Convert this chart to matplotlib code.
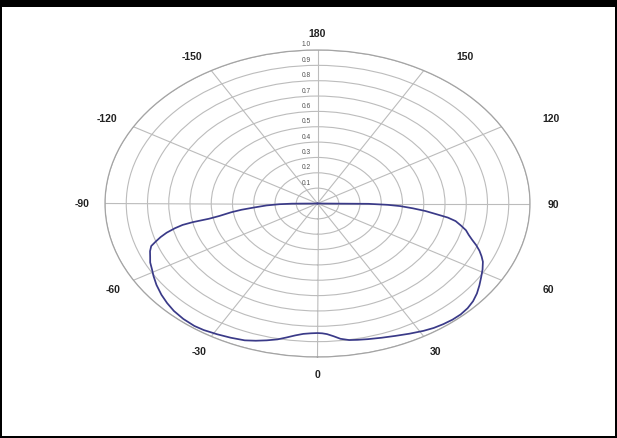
import numpy as np
import matplotlib
matplotlib.use("Agg")
import matplotlib.pyplot as plt
from matplotlib.patches import Rectangle
from matplotlib.transforms import offset_copy

# Richtdiagramm: Winkel (Grad, 0 unten, gegen Uhrzeigersinn) und relative Intensitaet
angles = [-90, -89.5, -88.5, -87, -85, -83.5, -82, -80, -79, -78.3, -77.6,
          -76.5, -75, -73.5, -72, -70.5, -68.5, -66, -64, -61, -58.5, -55,
          -51, -47.5, -44, -40, -36, -33, -29, -25, -21, -18, -15, -12,
          -9.5, -7, -4.5, -2, 0, 1.5, 3, 5, 7, 9.5, 12, 15, 19, 23, 27, 31,
          34, 37, 40, 43, 46, 49, 52, 55, 58, 61, 64, 66, 68, 70, 72, 74,
          76, 78, 80, 81.5, 83, 84.5, 86, 87.5, 88.5, 89.5, 90]
intensity = [0.0, 0.12, 0.18, 0.24, 0.30, 0.36, 0.41, 0.47, 0.52, 0.60, 0.65,
             0.69, 0.735, 0.77, 0.80, 0.83, 0.847, 0.862, 0.876, 0.89, 0.905,
             0.925, 0.945, 0.96, 0.973, 0.982, 0.986, 0.983, 0.974, 0.965,
             0.955, 0.94, 0.923, 0.905, 0.885, 0.866, 0.852, 0.846, 0.844,
             0.846, 0.852, 0.868, 0.888, 0.902, 0.908, 0.915, 0.925, 0.937,
             0.952, 0.968, 0.978, 0.984, 0.988, 0.988, 0.982, 0.97, 0.952,
             0.93, 0.908, 0.888, 0.866, 0.845, 0.822, 0.795, 0.765, 0.74,
             0.72, 0.69, 0.66, 0.62, 0.56, 0.51, 0.45, 0.39, 0.33, 0.24, 0.0]

theta_ticks = [0, 30, 60, 90, 120, 150, 180, 210, 240, 270, 300, 330]
theta_labels = ["0", "30", "60", "90", "120", "150", "180",
                "-150", "-120", "-90", "-60", "-30"]
r_ticks = [0.1, 0.2, 0.3, 0.4, 0.5, 0.6, 0.7, 0.8, 0.9, 1.0]
r_labels = ["0.1", "0.2", "0.3", "0.4", "0.5", "0.6", "0.7", "0.8", "0.9", "1.0"]

# kleine Verschiebungen der Winkelbeschriftung in Pixeln (wie im Original)
label_nudge = {60: 27, 120: 29, 150: 30, 210: -8, 240: -6}

plt.rcParams["font.family"] = ["Liberation Sans", "DejaVu Sans"]

fig = plt.figure(figsize=(6.17, 4.39), dpi=100)
fig.patch.set_facecolor("black")
# weisse Flaeche innerhalb des schwarzen Rahmens
fig.patches.append(Rectangle((2 / 617, 2 / 439), 613 / 617, 429 / 439,
                             transform=fig.transFigure, facecolor="white",
                             edgecolor="none", zorder=-5))

ax = fig.add_axes([105 / 617, 81 / 439, 425 / 617, 307 / 439],
                  projection="polar")
ax.set_aspect("auto")
ax.set_facecolor("white")
ax.set_theta_zero_location("S")
ax.set_theta_direction(1)
ax.set_ylim(0, 1.0)

grid_col = "#bcbcbc"
ax.set_thetagrids(theta_ticks, [""] * len(theta_ticks))
ax.set_rticks(r_ticks)
ax.set_yticklabels([])
ax.grid(True, color=grid_col, linewidth=0.8)
ax.spines["polar"].set_color("#a4a4a4")
ax.spines["polar"].set_linewidth(0.9)

# Winkelbeschriftung knapp ausserhalb des Randes
for t, s in zip(theta_ticks, theta_labels):
    tr = offset_copy(ax.transData, fig=fig, x=label_nudge.get(t, 0), y=0,
                     units="dots")
    ax.text(np.deg2rad(t), 1.11, s, transform=tr, ha="center", va="center",
            fontsize=7.5, fontweight="bold", color="#222222", clip_on=False)

# Radialbeschriftung entlang der 180-Grad-Linie
trans = offset_copy(ax.transData, fig=fig, x=-11, y=6, units="dots")
for r, s in zip(r_ticks, r_labels):
    ax.text(np.pi, r, s, transform=trans, ha="center", va="center",
            fontsize=4.8, color="#505050")

ax.plot(np.deg2rad(angles), intensity, color="#3a3a88", linewidth=1.25)

fig.savefig("out.png", dpi=100, facecolor=fig.get_facecolor())
